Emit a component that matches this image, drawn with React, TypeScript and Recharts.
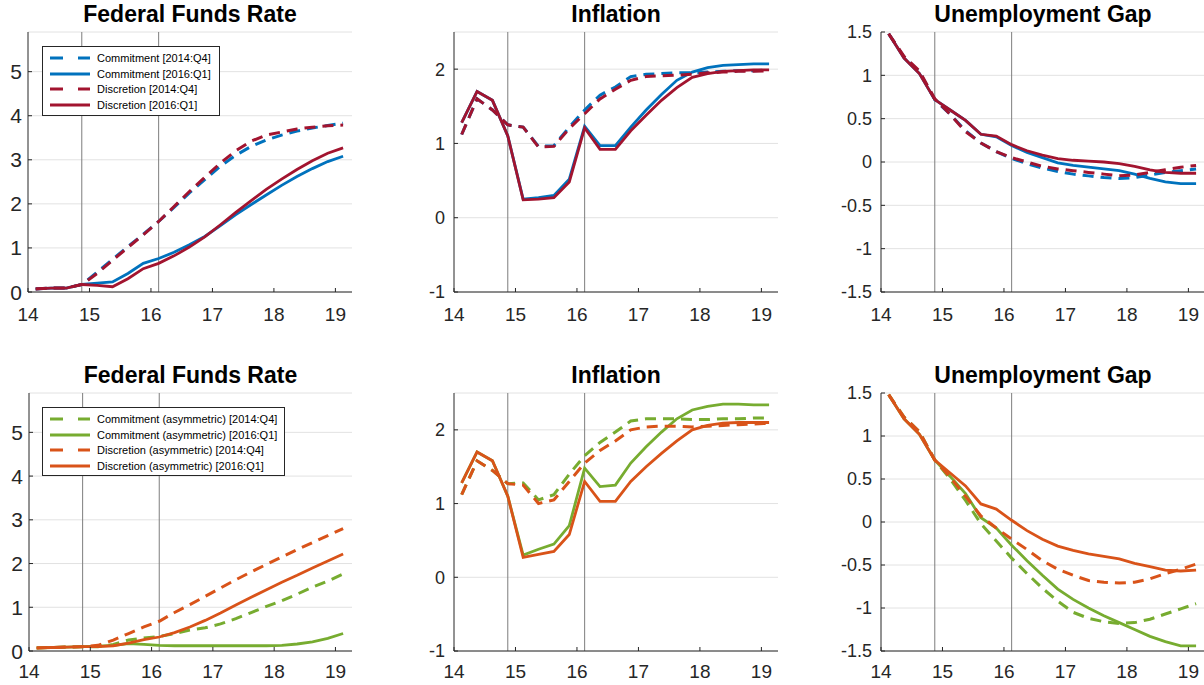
import React from "react";
import { LineChart, Line, XAxis, YAxis, CartesianGrid, ReferenceLine } from "recharts";

// quarterly dates, as fractions of year (2014:Q1 .. 2019:Q1)
const quarters = [
  14.125, 14.375, 14.625, 14.875, 15.125, 15.375, 15.625, 15.875, 16.125, 16.375, 16.625,
  16.875, 17.125, 17.375, 17.625, 17.875, 18.125, 18.375, 18.625, 18.875, 19.125,
];
const xTicks = [14, 15, 16, 17, 18, 19];
const policyDates = [14.875, 16.125];

// top row: baseline policy
const ffrCommit14 = [0.07, 0.09, 0.09, 0.17, 0.45, 0.74, 1.03, 1.31, 1.6, 1.92, 2.25, 2.55, 2.85, 3.1, 3.3, 3.45, 3.56, 3.65, 3.72, 3.78, 3.83];
const ffrCommit16 = [0.07, 0.09, 0.09, 0.17, 0.2, 0.23, 0.42, 0.65, 0.76, 0.9, 1.07, 1.26, 1.5, 1.75, 1.98, 2.2, 2.42, 2.62, 2.8, 2.96, 3.08];
const ffrDisc14 = [0.07, 0.09, 0.09, 0.17, 0.42, 0.72, 1.01, 1.3, 1.6, 1.94, 2.28, 2.6, 2.92, 3.2, 3.42, 3.56, 3.63, 3.7, 3.74, 3.77, 3.79];
const ffrDisc16 = [0.07, 0.09, 0.09, 0.17, 0.15, 0.12, 0.3, 0.53, 0.65, 0.82, 1.02, 1.25, 1.52, 1.8, 2.07, 2.33, 2.56, 2.78, 2.98, 3.15, 3.27];

const inflCommit14 = [1.12, 1.6, 1.45, 1.25, 1.22, 0.96, 0.97, 1.22, 1.45, 1.65, 1.76, 1.9, 1.93, 1.94, 1.95, 1.95, 1.96, 1.97, 1.98, 1.98, 1.99];
const inflCommit16 = [1.28, 1.7, 1.58, 1.1, 0.25, 0.27, 0.3, 0.52, 1.23, 0.97, 0.97, 1.22, 1.45, 1.66, 1.85, 1.96, 2.02, 2.05, 2.06, 2.07, 2.07];
const inflDisc14 = [1.12, 1.6, 1.45, 1.25, 1.22, 0.95, 0.96, 1.2, 1.4, 1.6, 1.73, 1.85, 1.9, 1.91, 1.92, 1.93, 1.95, 1.96, 1.97, 1.97, 1.98];
const inflDisc16 = [1.28, 1.7, 1.58, 1.1, 0.24, 0.25, 0.27, 0.48, 1.21, 0.92, 0.92, 1.17, 1.38, 1.58, 1.75, 1.89, 1.94, 1.97, 1.98, 1.99, 1.99];

const ugCommit14 = [1.48, 1.21, 1.04, 0.72, 0.55, 0.36, 0.22, 0.12, 0.04, -0.02, -0.07, -0.11, -0.14, -0.16, -0.18, -0.19, -0.18, -0.15, -0.12, -0.1, -0.08];
const ugCommit16 = [1.48, 1.2, 1.02, 0.72, 0.6, 0.48, 0.32, 0.29, 0.19, 0.11, 0.05, -0.01, -0.04, -0.06, -0.08, -0.1, -0.14, -0.19, -0.23, -0.25, -0.25];
const ugDisc14 = [1.48, 1.22, 1.05, 0.73, 0.55, 0.35, 0.22, 0.12, 0.05, 0.0, -0.05, -0.08, -0.1, -0.12, -0.14, -0.16, -0.15, -0.12, -0.09, -0.06, -0.04];
const ugDisc16 = [1.48, 1.2, 1.02, 0.72, 0.6, 0.48, 0.32, 0.3, 0.2, 0.13, 0.08, 0.04, 0.02, 0.01, 0.0, -0.02, -0.05, -0.09, -0.12, -0.13, -0.13];

// bottom row: asymmetric policy
const ffrCommitA14 = [0.07, 0.08, 0.09, 0.1, 0.1, 0.15, 0.25, 0.3, 0.33, 0.4, 0.48, 0.53, 0.62, 0.74, 0.88, 1.02, 1.15, 1.3, 1.46, 1.6, 1.76];
const ffrCommitA16 = [0.07, 0.08, 0.09, 0.1, 0.11, 0.13, 0.17, 0.15, 0.13, 0.12, 0.12, 0.12, 0.12, 0.12, 0.12, 0.12, 0.13, 0.16, 0.21, 0.29, 0.4];
const ffrDiscA14 = [0.07, 0.08, 0.09, 0.1, 0.13, 0.25, 0.4, 0.55, 0.68, 0.88, 1.06, 1.25, 1.44, 1.63, 1.81, 1.98, 2.15, 2.32, 2.48, 2.64, 2.8];
const ffrDiscA16 = [0.07, 0.08, 0.09, 0.1, 0.1, 0.12, 0.18, 0.26, 0.32, 0.42, 0.55, 0.7, 0.87, 1.05, 1.23, 1.4, 1.57, 1.73, 1.9, 2.06, 2.22];

const inflCommitA14 = [1.12, 1.58, 1.45, 1.27, 1.28, 1.05, 1.12, 1.4, 1.65, 1.83, 1.97, 2.12, 2.15, 2.15, 2.15, 2.14, 2.14, 2.15, 2.15, 2.16, 2.16];
const inflCommitA16 = [1.28, 1.7, 1.58, 1.1, 0.3, 0.38, 0.45, 0.7, 1.48, 1.23, 1.25, 1.55, 1.77, 1.97, 2.15, 2.27, 2.32, 2.35, 2.35, 2.34, 2.34];
const inflDiscA14 = [1.12, 1.58, 1.45, 1.27, 1.25, 1.0, 1.05, 1.3, 1.55, 1.72, 1.85, 2.0, 2.04, 2.05, 2.05, 2.04, 2.05, 2.06, 2.07, 2.08, 2.09];
const inflDiscA16 = [1.28, 1.7, 1.58, 1.1, 0.27, 0.31, 0.35, 0.58, 1.3, 1.03, 1.03, 1.3, 1.5, 1.68, 1.85, 2.0, 2.06, 2.09, 2.1, 2.1, 2.1];

const ugCommitA14 = [1.48, 1.22, 1.05, 0.72, 0.5, 0.25, -0.02, -0.22, -0.42, -0.6, -0.77, -0.92, -1.05, -1.12, -1.16, -1.18, -1.17, -1.13, -1.07, -1.01, -0.95];
const ugCommitA16 = [1.48, 1.2, 1.02, 0.72, 0.53, 0.33, 0.05, -0.07, -0.27, -0.45, -0.62, -0.78, -0.9, -1.0, -1.09, -1.17, -1.25, -1.33, -1.39, -1.44, -1.44];
const ugDiscA14 = [1.48, 1.22, 1.05, 0.72, 0.52, 0.3, 0.07, -0.07, -0.2, -0.32, -0.45, -0.55, -0.62, -0.68, -0.7, -0.71, -0.7, -0.66, -0.6, -0.55, -0.49];
const ugDiscA16 = [1.48, 1.2, 1.02, 0.72, 0.57, 0.42, 0.21, 0.15, 0.02, -0.1, -0.2, -0.28, -0.33, -0.37, -0.4, -0.43, -0.48, -0.52, -0.56, -0.57, -0.56];

const labelsTop = ["Commitment [2014:Q4]", "Commitment [2016:Q1]", "Discretion [2014:Q4]", "Discretion [2016:Q1]"];
const labelsBottom = [
  "Commitment (asymmetric) [2014:Q4]",
  "Commitment (asymmetric) [2016:Q1]",
  "Discretion (asymmetric) [2014:Q4]",
  "Discretion (asymmetric) [2016:Q1]",
];

const BLUE = "#0072BD";
const RED = "#A2142F";
const GREEN = "#77AC30";
const ORANGE = "#D95319";
const TEXT = "#262626";
const FONT = "'Liberation Sans', Arial, Helvetica, sans-serif";

type Series = { values: number[]; color: string; dashed: boolean };

const topColors = [BLUE, BLUE, RED, RED];
const bottomColors = [GREEN, GREEN, ORANGE, ORANGE];
const dashedFlags = [true, false, true, false];

function toSeries(values: number[][], colors: string[]): Series[] {
  return values.map((v, i) => ({ values: v, color: colors[i], dashed: dashedFlags[i] }));
}

const makeXTick = (fontSize: number, offset: number) => (props: any) => {
  const { x, y, payload } = props;
  return (
    <g>
      <line x1={x} x2={x} y1={y} y2={y - 4} stroke={TEXT} strokeWidth={1} />
      <text x={x} y={y + offset} textAnchor="middle" fontSize={fontSize} fill={TEXT} fontFamily={FONT}>
        {payload.value}
      </text>
    </g>
  );
};

const makeYTick = (fontSize: number, gap: number) => (props: any) => {
  const { x, y, payload } = props;
  return (
    <g>
      <line x1={x} x2={x + 4} y1={y} y2={y} stroke={TEXT} strokeWidth={1} />
      <text x={x - gap} y={y} dy="0.36em" textAnchor="end" fontSize={fontSize} fill={TEXT} fontFamily={FONT}>
        {payload.value}
      </text>
    </g>
  );
};

type PanelProps = {
  title: string;
  left: number;
  top: number;
  width: number;
  height: number;
  marginTop: number;
  marginRight: number;
  yAxisWidth: number;
  xAxisHeight: number;
  yDomain: [number, number];
  yTicks: number[];
  yFont: number;
  yGap: number;
  xOffset: number;
  titleTop: number;
  series: Series[];
};

function Panel(p: PanelProps) {
  const data = quarters.map((q, i) => {
    const row: Record<string, number> = { x: q };
    p.series.forEach((s, j) => (row["s" + j] = s.values[i]));
    return row;
  });
  const plotLeft = p.left + p.yAxisWidth;
  const plotWidth = p.width - p.yAxisWidth - p.marginRight;
  return (
    <>
      <div
        style={{
          position: "absolute",
          left: plotLeft,
          top: p.titleTop,
          width: plotWidth,
          textAlign: "center",
          fontFamily: FONT,
          fontWeight: "bold",
          fontSize: 23,
          lineHeight: "23px",
          color: "#000",
          whiteSpace: "nowrap",
        }}
      >
        {p.title}
      </div>
      <div style={{ position: "absolute", left: p.left, top: p.top }}>
        <LineChart
          width={p.width}
          height={p.height}
          data={data}
          margin={{ top: p.marginTop, right: p.marginRight, left: 0, bottom: 0 }}
        >
          <CartesianGrid vertical={false} stroke="#e2e2e2" strokeWidth={1} />
          <XAxis
            dataKey="x"
            type="number"
            domain={[14, 19.27]}
            ticks={xTicks}
            allowDataOverflow
            height={p.xAxisHeight}
            tickSize={0}
            tickMargin={0}
            axisLine={{ stroke: TEXT, strokeWidth: 1 }}
            tickLine={false}
            tick={makeXTick(19, p.xOffset)}
            interval={0}
          />
          <YAxis
            type="number"
            domain={p.yDomain}
            ticks={p.yTicks}
            allowDataOverflow
            width={p.yAxisWidth}
            tickSize={0}
            tickMargin={0}
            axisLine={{ stroke: TEXT, strokeWidth: 1 }}
            tickLine={false}
            tick={makeYTick(p.yFont, p.yGap)}
            interval={0}
          />
          {policyDates.map((d) => (
            <ReferenceLine key={d} x={d} stroke="#7d7d7d" strokeWidth={1} />
          ))}
          {p.series.map((s, j) => (
            <Line
              key={j}
              type="linear"
              dataKey={"s" + j}
              stroke={s.color}
              strokeWidth={s.dashed ? 3 : 2.8}
              strokeDasharray={s.dashed ? "11 7" : undefined}
              dot={false}
              activeDot={false}
              isAnimationActive={false}
            />
          ))}
        </LineChart>
      </div>
    </>
  );
}

function LegendBox(props: { left: number; top: number; width: number; height: number; labels: string[]; colors: string[] }) {
  return (
    <div
      style={{
        position: "absolute",
        left: props.left,
        top: props.top,
        width: props.width,
        height: props.height,
        boxSizing: "border-box",
        border: `1px solid ${TEXT}`,
        background: "#fff",
        paddingTop: 3,
        fontFamily: FONT,
        fontSize: 11,
        color: "#000",
      }}
    >
      {props.labels.map((label, i) => (
        <div key={label} style={{ display: "flex", alignItems: "center", height: 15.7, whiteSpace: "nowrap" }}>
          <svg width={54} height={6} style={{ flex: "none" }}>
            <line
              x1={7}
              x2={47}
              y1={3}
              y2={3}
              stroke={props.colors[i]}
              strokeWidth={3}
              strokeDasharray={dashedFlags[i] ? "13 15" : undefined}
            />
          </svg>
          <span>{label}</span>
        </div>
      ))}
    </div>
  );
}

const ffrTicks = [0, 1, 2, 3, 4, 5];
const inflTicks = [-1, 0, 1, 2];
const ugTicks = [-1.5, -1, -0.5, 0, 0.5, 1, 1.5];

export default function App() {
  const top = { top: 0, height: 330, marginTop: 32, xAxisHeight: 38, xOffset: 29, titleTop: 3 };
  const bot = { top: 335, height: 350, marginTop: 58, xAxisHeight: 34, xOffset: 27, titleTop: 364 };
  const c1 = { left: 0, width: 360, marginRight: 8, yAxisWidth: 28, yFont: 21, yGap: 6 };
  const c2 = { left: 400, width: 400, marginRight: 22, yAxisWidth: 54, yFont: 18, yGap: 9 };
  const c3 = { left: 820, width: 385, marginRight: 0, yAxisWidth: 61, yFont: 18, yGap: 9 };
  return (
    <div
      style={{
        position: "absolute",
        left: 0,
        top: 0,
        width: 1204,
        height: 685,
        overflow: "hidden",
        background: "#fff",
        fontFamily: FONT,
      }}
    >
      <Panel {...top} {...c1} title="Federal Funds Rate" yDomain={[0, 5.9]} yTicks={ffrTicks}
        series={toSeries([ffrCommit14, ffrCommit16, ffrDisc14, ffrDisc16], topColors)} />
      <Panel {...top} {...c2} title="Inflation" yDomain={[-1, 2.5]} yTicks={inflTicks}
        series={toSeries([inflCommit14, inflCommit16, inflDisc14, inflDisc16], topColors)} />
      <Panel {...top} {...c3} title="Unemployment Gap" yDomain={[-1.5, 1.5]} yTicks={ugTicks}
        series={toSeries([ugCommit14, ugCommit16, ugDisc14, ugDisc16], topColors)} />
      <Panel {...bot} {...c1} yAxisWidth={29} title="Federal Funds Rate" yDomain={[0, 5.9]} yTicks={ffrTicks}
        series={toSeries([ffrCommitA14, ffrCommitA16, ffrDiscA14, ffrDiscA16], bottomColors)} />
      <Panel {...bot} {...c2} title="Inflation" yDomain={[-1, 2.5]} yTicks={inflTicks}
        series={toSeries([inflCommitA14, inflCommitA16, inflDiscA14, inflDiscA16], bottomColors)} />
      <Panel {...bot} {...c3} title="Unemployment Gap" yDomain={[-1.5, 1.5]} yTicks={ugTicks}
        series={toSeries([ugCommitA14, ugCommitA16, ugDiscA14, ugDiscA16], bottomColors)} />
      <LegendBox left={42} top={46} width={178} height={70} labels={labelsTop} colors={topColors} />
      <LegendBox left={42} top={407} width={243} height={69} labels={labelsBottom} colors={bottomColors} />
    </div>
  );
}
